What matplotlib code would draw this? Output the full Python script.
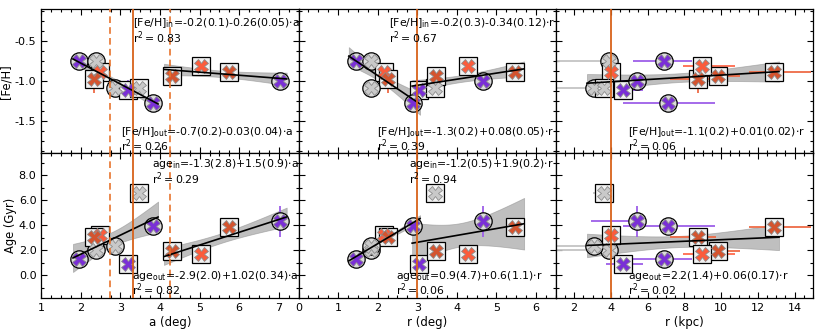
import numpy as np
import matplotlib
matplotlib.use('Agg')
import matplotlib.pyplot as plt
from matplotlib.ticker import MultipleLocator, FormatStrFormatter

# --- data (one entry per cluster) ---
colours = ['purple', 'grey', 'tomato', 'dark', 'grey', 'purple',
           'grey', 'purple', 'dark', 'tomato', 'dark', 'purple']
shapes = ['o', 'o', 's', 's', 'o', 's', 's', 'o', 's', 's', 's', 'o']

a_deg = [1.95, 2.38, 2.48, 2.33, 2.86, 3.18, 3.48, 3.82, 4.30, 5.04, 5.75, 7.02]
r_deg = [1.44, 1.83, 2.15, 2.25, 1.83, 3.05, 3.45, 2.88, 3.48, 4.27, 5.48, 4.66]
r_kpc = [6.9, 3.92, 4.0, 8.74, 3.1, 4.65, 3.65, 7.1, 9.84, 8.94, 12.9, 5.44]
r_kpc_lo = [1.7, 3.5, 0.5, 1.5, 2.8, 0.9, 0.6, 2.45, 0.6, 1.0, 1.4, 2.5]
r_kpc_hi = [1.5, 0.3, 0.5, 1.0, 0.3, 1.1, 0.2, 2.55, 1.2, 1.8, 2.0, 0.4]

feh = [-0.75, -0.75, -0.88, -0.97, -1.08, -1.11, -1.08, -1.27, -0.93, -0.81, -0.89, -1.00]
feh_err = [0.05, 0.0, 0.08, 0.18, 0.0, 0.12, 0.0, 0.0, 0.08, 0.1, 0.05, 0.0]
age = [1.29, 2.04, 3.2, 3.1, 2.36, 0.95, 6.6, 3.97, 1.95, 1.7, 3.9, 4.33]
age_err = [0, 0, 0, 0, 0, 0, 0.5, 0, 0, 0, 0, 1.25]

# --- per column settings ---
x_sets = [a_deg, r_deg, r_kpc]
x_labels = ['a (deg)', 'r (deg)', 'r (kpc)']
split_at = [4.1, 3.0, 3.95]
fit_ranges = [{'in': (1.8, 3.95), 'out': (4.1, 7.2)},
              {'in': (1.27, 3.07), 'out': (2.87, 5.7)},
              {'out': (2.7, 13.15)}]
solid_lines = [3.31, 3.0, 4.0]
dashed_lines = [[2.73, 4.26], [], []]

feh_texts = [
    {'in': (r'[Fe/H]$_{\rm in}$=-0.2(0.1)-0.26(0.05)$\cdot$a', '0.83'),
     'out': (r'[Fe/H]$_{\rm out}$=-0.7(0.2)-0.03(0.04)$\cdot$a', '0.26')},
    {'in': (r'[Fe/H]$_{\rm in}$=-0.2(0.3)-0.34(0.12)$\cdot$r', '0.67'),
     'out': (r'[Fe/H]$_{\rm out}$=-1.3(0.2)+0.08(0.05)$\cdot$r', '0.39')},
    {'out': (r'[Fe/H]$_{\rm out}$=-1.1(0.2)+0.01(0.02)$\cdot$r', '0.06')},
]
age_texts = [
    {'in': (r'age$_{\rm in}$=-1.3(2.8)+1.5(0.9)$\cdot$a', '0.29'),
     'out': (r'age$_{\rm out}$=-2.9(2.0)+1.02(0.34)$\cdot$a', '0.82')},
    {'in': (r'age$_{\rm in}$=-1.2(0.5)+1.9(0.2)$\cdot$r', '0.94'),
     'out': (r'age$_{\rm out}$=0.9(4.7)+0.6(1.1)$\cdot$r', '0.06')},
    {'out': (r'age$_{\rm out}$=2.2(1.4)+0.06(0.17)$\cdot$r', '0.02')},
]

fill = {'purple': '#7a2fd6', 'grey': '#c9c9c9', 'tomato': '#fb5c3c', 'dark': '#d4542f'}
bars = {'purple': '#9d5fe8', 'grey': '#c4c4c4', 'tomato': '#ff6b4e', 'dark': '#ee6b47'}

plt.rcParams['axes.unicode_minus'] = False
plt.rcParams['font.size'] = 8.5
plt.rcParams['mathtext.default'] = 'regular'


def fit_band(x, y, xr):
    # straight line fit + 1 sigma band of the mean
    x = np.asarray(x); y = np.asarray(y)
    slope, icpt = np.polyfit(x, y, 1)
    res = y - (icpt + slope * x)
    s = np.sqrt(np.sum(res ** 2) / (len(x) - 2))
    xs = np.linspace(xr[0], xr[1], 60)
    ys = icpt + slope * xs
    se = s * np.sqrt(1.0 / len(x) + (xs - x.mean()) ** 2 / np.sum((x - x.mean()) ** 2))
    return xs, ys, se


def draw_panel(ax, col, yvals, yerr, texts, text_pos):
    xv = x_sets[col]
    for i in range(len(xv)):
        xerr = None
        if col == 2:
            xerr = [[r_kpc_lo[i]], [r_kpc_hi[i]]]
        if xerr is not None or yerr[i] > 0:
            ax.errorbar(xv[i], yvals[i], yerr=yerr[i] if yerr[i] > 0 else None,
                        xerr=xerr, fmt='none', ecolor=bars[colours[i]],
                        elinewidth=1.3, zorder=2)
        face = '#dcdcdc' if shapes[i] == 'o' else '#f2f2f2'
        ax.plot(xv[i], yvals[i], marker=shapes[i], ms=12.5, mfc=face,
                mec='black', mew=0.9, zorder=3)
        ax.plot(xv[i], yvals[i], marker='X', ms=9.5, mfc=fill[colours[i]],
                mec='0.55', mew=0.6, zorder=4)

    for part, xr in fit_ranges[col].items():
        if part == 'in':
            idx = [i for i in range(len(xv)) if xv[i] < split_at[col]]
        else:
            idx = [i for i in range(len(xv)) if xv[i] >= split_at[col]]
        xs, ys, se = fit_band([xv[i] for i in idx], [yvals[i] for i in idx], xr)
        ax.fill_between(xs, ys - se, ys + se, color='0.55', alpha=0.55, lw=0.6, zorder=1)
        ax.plot(xs, ys, color='black', lw=1.2, zorder=5)

    ax.axvline(solid_lines[col], color='#d8621a', lw=1.3, zorder=6)
    for xd in dashed_lines[col]:
        ax.axvline(xd, color='#e8742e', lw=1.2, ls=(0, (4, 2.5)), zorder=6)

    for part, (eq, r2) in texts.items():
        tx, ty1, ty2 = text_pos[col][part]
        ax.text(tx, ty1, eq, transform=ax.transAxes, va='center', ha='left',
                fontsize=7.8, zorder=7)
        ax.text(tx, ty2, r'$r^2 = %s$' % r2, transform=ax.transAxes, va='center',
                ha='left', fontsize=7.8, zorder=7)


feh_pos = [{'in': (0.355, 0.9, 0.8), 'out': (0.31, 0.15, 0.052)},
           {'in': (0.351, 0.9, 0.8), 'out': (0.306, 0.15, 0.052)},
           {'out': (0.282, 0.15, 0.052)}]
age_pos = [{'in': (0.43, 0.925, 0.825), 'out': (0.353, 0.152, 0.055)},
           {'in': (0.43, 0.925, 0.825), 'out': (0.38, 0.152, 0.055)},
           {'out': (0.28, 0.152, 0.055)}]

fig, axes = plt.subplots(2, 3, figsize=(8.3, 3.32), dpi=100)
fig.subplots_adjust(left=0.0498, right=0.9795, top=0.973, bottom=0.1024,
                    wspace=0, hspace=0)

x_limits = [(1, 7.5), (0, 6.5), (1, 15)]
x_major = [1, 1, 2]
x_minor = [0.25, 0.25, 0.5]

for col in range(3):
    top = axes[0, col]
    bot = axes[1, col]
    draw_panel(top, col, feh, feh_err, feh_texts[col], feh_pos)
    draw_panel(bot, col, age, age_err, age_texts[col], age_pos)

    for ax in (top, bot):
        ax.set_xlim(*x_limits[col])
        ax.xaxis.set_major_locator(MultipleLocator(x_major[col]))
        ax.xaxis.set_minor_locator(MultipleLocator(x_minor[col]))
        ax.tick_params(which='both', direction='in', top=True, right=True, width=0.8)
        ax.tick_params(which='major', length=4.5, labelsize=8)
        ax.tick_params(which='minor', length=2.5)
        for sp in ax.spines.values():
            sp.set_linewidth(0.9)

    top.set_ylim(-1.9, -0.1)
    top.yaxis.set_major_locator(MultipleLocator(0.5))
    top.yaxis.set_minor_locator(MultipleLocator(0.125))
    top.yaxis.set_major_formatter(FormatStrFormatter('%.1f'))
    bot.set_ylim(-1.8, 9.75)
    bot.yaxis.set_major_locator(MultipleLocator(2))
    bot.yaxis.set_minor_locator(MultipleLocator(1))
    bot.yaxis.set_major_formatter(FormatStrFormatter('%.1f'))

    top.tick_params(labelbottom=False)
    bot.set_xlabel(x_labels[col], labelpad=2)
    if col > 0:
        top.tick_params(labelleft=False)
        bot.tick_params(labelleft=False)

axes[0, 0].set_ylabel('[Fe/H]', labelpad=1.5, fontsize=8.3)
axes[1, 0].set_ylabel('Age (Gyr)', labelpad=1.5, fontsize=8.3)

fig.savefig('out.png', dpi=100)
